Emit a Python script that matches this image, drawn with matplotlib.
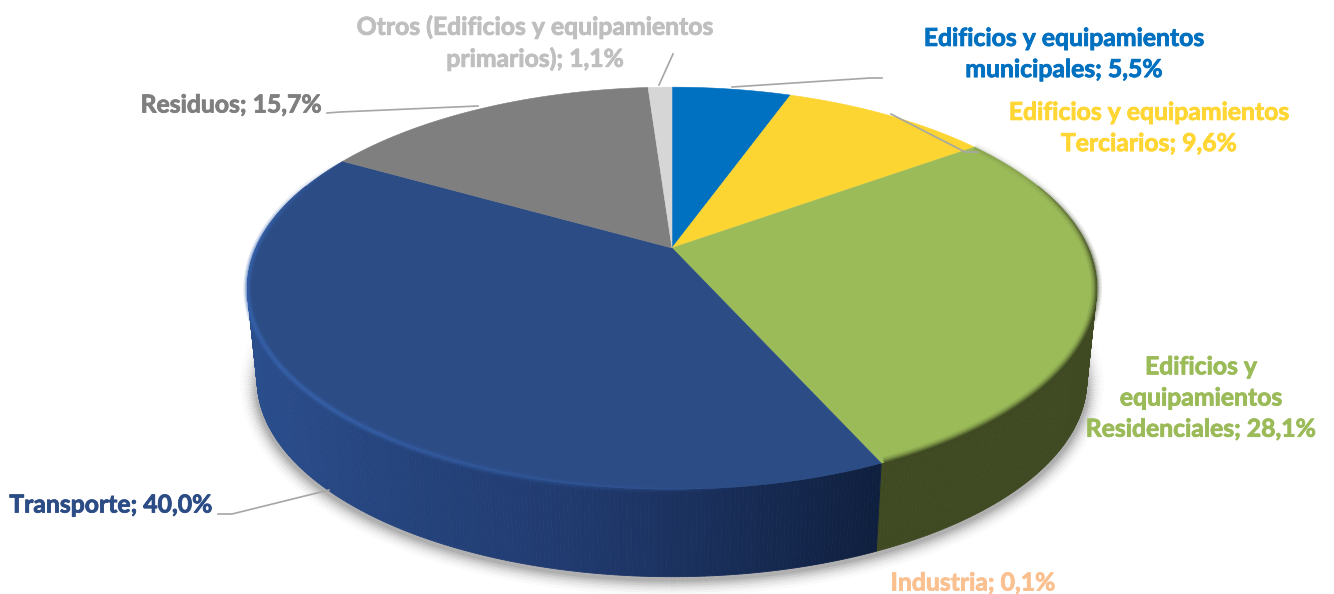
import numpy as np
import matplotlib
matplotlib.use("Agg")
import matplotlib.pyplot as plt
from matplotlib.patches import Polygon
from matplotlib.colors import to_rgb
from matplotlib.collections import LineCollection
import matplotlib.patheffects as pe

# ---- data
categories = ["Edificios y equipamientos\nmunicipales",
              "Edificios y equipamientos\nTerciarios",
              "Edificios y\nequipamientos\nResidenciales",
              "Industria", "Transporte", "Residuos",
              "Otros (Edificios y equipamientos\nprimarios)"]
values = [5.5, 9.6, 28.1, 0.1, 40.0, 15.7, 1.1]
value_labels = ["5,5%", "9,6%", "28,1%", "0,1%", "40,0%", "15,7%", "1,1%"]
colors = ["#0070C0", "#FDD533", "#9BBB59", "#9BBB59", "#2C4C86", "#7F7F7F", "#D6D6D6"]
text_colors = ["#0070C0", "#FFD633", "#9BBB59", "#FAC090", "#2C4C86", "#7F7F7F", "#BFBFBF"]
label_xy = [(1064, 54), (1149, 128), (1201, 398), (973, 583), (111, 505), (232, 105), (535, 43)]
leaders = [[(732, 87), (870, 78), (882, 78)],
           [(891, 114), (965, 152), (978, 152)],
           None, None,
           [(218, 514), (232, 514), (329, 490)],
           [(327, 113), (340, 112), (478, 106)],
           [(673, 54), (659, 85)]]

# ---- perspective model of the disc (pixel coordinates)
CX, CY, R, H, K = 672.0, 248.0, 416.0, 193.0, 0.2
SCALE_B, DROP = 0.977, 93.0


def ring(t):
    x, z = np.sin(t), np.cos(t)
    return CX + R * x / (1 + K * z), CY - H * z / (1 + K * z)


def ring_low(t):
    X, Y = ring(t)
    return CX + (X - CX) * SCALE_B, CY + (Y - CY) * SCALE_B + DROP


fig = plt.figure(figsize=(13.34, 5.94), dpi=100)
ax = fig.add_axes([0, 0, 1, 1])
ax.set_xlim(0, 1334)
ax.set_ylim(594, 0)
ax.axis("off")

fr = np.cumsum([0] + values) / sum(values)
ang = 2 * np.pi * fr

# ---- soft shadow around the lower front edge, tapering toward the sides
tt = np.radians(np.linspace(78, 282, 300))
sx, sy = ring_low(tt)
sy = sy + 2
pts = np.c_[sx, sy]
segs = np.stack([pts[:-1], pts[1:]], axis=1)
tm = (tt[:-1] + tt[1:]) / 2
taper = np.clip((tm - np.radians(78)) / np.radians(30), 0, 1) * np.clip((np.radians(282) - tm) / np.radians(30), 0, 1)
for w, a in zip([34, 28, 23, 18, 14, 10, 6], [.02, .03, .04, .05, .06, .07, .08]):
    rgba = np.zeros((len(segs), 4))
    rgba[:, 3] = a * taper
    ax.add_collection(LineCollection(segs, colors=rgba, linewidths=w * .72, zorder=1, capstyle="butt"))

# ---- side wall
blue_x = [250, 400, 560, 700, 880]
blue_r = ["#2A4D8C", "#25437C", "#213B70", "#1A305C", "#0F1F3E"]
blue_rgb = np.array([to_rgb(c) for c in blue_r])
for i in range(len(values)):
    a0, a1 = ang[i], ang[i + 1]
    a0c, a1c = max(a0, np.radians(70)), min(a1, np.radians(290))
    if a1c <= a0c:
        continue
    edges = np.linspace(a0c, a1c, max(2, int((a1c - a0c) * 120)))
    for e0, e1 in zip(edges[:-1], edges[1:]):
        x0, y0 = ring(e0)
        x1, y1 = ring(e1)
        x2, y2 = ring_low(e1)
        x3, y3 = ring_low(e0)
        if i == 4:
            c = [np.interp((x0 + x1) / 2, blue_x, blue_rgb[:, k]) for k in range(3)]
        elif i in (2, 3):
            c = "#3F4A23"
        else:
            c = colors[i]
        ax.add_patch(Polygon([(x0, y0), (x1, y1), (x2, y2), (x3, y3)], closed=True,
                             fc=c, ec=c, lw=.6, zorder=2))

# ---- top face
for i in range(len(values)):
    t = np.linspace(ang[i], ang[i + 1], max(2, int((ang[i + 1] - ang[i]) * 120)))
    X, Y = ring(t)
    ax.add_patch(Polygon(np.r_[[(CX, CY)], np.c_[X, Y]], closed=True,
                         fc=colors[i], ec=colors[i], lw=.4, zorder=3))

# ---- bevel along the rim
for i in [2, 4]:
    edges = np.linspace(ang[i], ang[i + 1], 90)
    for e0, e1 in zip(edges[:-1], edges[1:]):
        tm = (e0 + e1) / 2
        X, Y = ring(np.array([e0, e1]))
        if i == 4:
            cc = "#3A68B4"
            # fades toward the dark right end and the far back
            f = np.clip((tm - np.radians(170)) / np.radians(55), 0, 1)
            f *= np.clip((np.radians(300) - tm) / np.radians(30), 0, 1)
            layers = [(8, .18), (5, .28), (3, .4)]
            oy = 0.5
        else:
            cc = "#3F4A23"
            f = np.clip((tm - np.radians(60)) / np.radians(35), .2, 1)
            layers = [(11, .10), (8, .16), (5, .28), (2.5, .5)]
            oy = 0
        for w, a in layers:
            ax.plot(X, Y + oy, color=cc, lw=w * .72, alpha=a * f, zorder=3.2,
                    solid_capstyle="butt")

# ---- leaders
for pts_l in leaders:
    if pts_l:
        p = np.array(pts_l)
        ax.plot(p[:, 0], p[:, 1], color="#A6A6A6", lw=1.2, zorder=4)

# ---- labels
for i, (cat, val) in enumerate(zip(categories, value_labels)):
    ha = "center"
    x, y = label_xy[i]
    if cat == "Residuos":
        x = 322; ha = "right"
    ax.text(x, y, f"{cat}; {val}", color=text_colors[i], ha=ha, va="center", multialignment="center",
            fontsize=17.8, fontweight="bold", family="Lato", linespacing=1.43, zorder=5,
            path_effects=[pe.withStroke(linewidth=0.6, foreground=text_colors[i])])

fig.savefig("out.png", dpi=100, facecolor="white")
